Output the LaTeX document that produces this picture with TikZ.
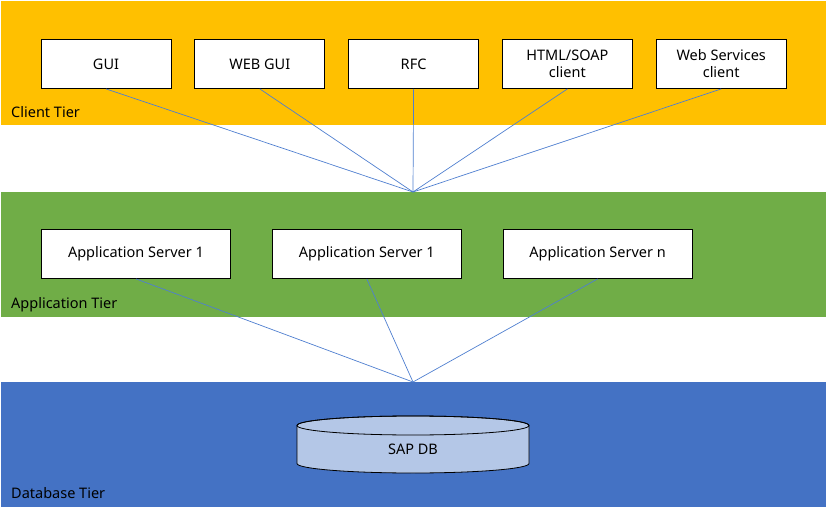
\documentclass[tikz,border=0pt]{standalone}
\usepackage{fontspec}
\setmainfont{Noto Sans}
\usepackage{tikz}
\usetikzlibrary{
  positioning,
  shapes.geometric
}
\definecolor{tieryellow}{HTML}{FFC000}
\definecolor{tiergreen}{HTML}{70AD47}
\definecolor{tierblue}{HTML}{4472C4}
\definecolor{dbfill}{HTML}{B4C7E7}
\definecolor{linkblue}{HTML}{4F7FD0}

\begin{document}
\begin{tikzpicture}[x=1pt,y=-1pt,node distance=23pt,
    txt/.style={font=\fontsize{14.5}{17}\selectfont},
    box/.style={txt,draw,fill=white,line width=0.8pt,minimum width=130pt,minimum height=49pt,inner sep=2pt,align=center},
    appbox/.style={box,minimum width=189pt},
    tierlabel/.style={txt,anchor=base west,inner sep=0pt},
    link/.style={draw=linkblue,line width=0.7pt}]
            \useasboundingbox (0,0) rectangle (828,508);
            \fill[tieryellow] (1,1) rectangle (826,125.5);
            \fill[tiergreen] (1,192) rectangle (826,316.5);
            \fill[tierblue] (1,382) rectangle (826,506.5);
            \node[tierlabel] (clienttier) at (11,117.5) {Client Tier};
            \node[tierlabel] (apptier) at (11,308) {Application Tier};
            \node[tierlabel] (dbtier) at (11,498) {Database Tier};
            \coordinate (hubclient) at (413,192);
            \coordinate (hubdb) at (413,382);
            \node[box] (gui) at (106,64) {GUI};
            \node[box,right=of gui] (webgui) {WEB GUI};
            \node[box,right=of webgui] (rfc) {RFC};
            \node[box,right=of rfc] (html) {HTML/SOAP\\client};
            \node[box,right=of html] (websvc) {Web Services\\client};
            \foreach \n in {gui,webgui,rfc,html,websvc}
                \draw[link] (\n.south) -- (hubclient);
            \node[appbox] (appa) at (136,254) {Application Server 1};
            \node[appbox,right=41pt of appa] (appb) {Application Server 1};
            \node[appbox,right=41pt of appb] (appn) {Application Server n};
            \foreach \n in {appa,appb,appn}
                \draw[link] (\n.south) -- (hubdb);
            \draw[fill=dbfill,line width=0.8pt] (297,425.5) -- (297,463.5)
                arc[start angle=180,end angle=0,x radius=116,y radius=9.5] -- (529,425.5)
                arc[start angle=0,end angle=-180,x radius=116,y radius=9.5] -- cycle;
            \draw[line width=0.8pt] (413,425.5) ellipse[x radius=116,y radius=9.5];
            \node[txt] (sapdb) at (413,449) {SAP DB};
        \end{tikzpicture}
\end{document}
